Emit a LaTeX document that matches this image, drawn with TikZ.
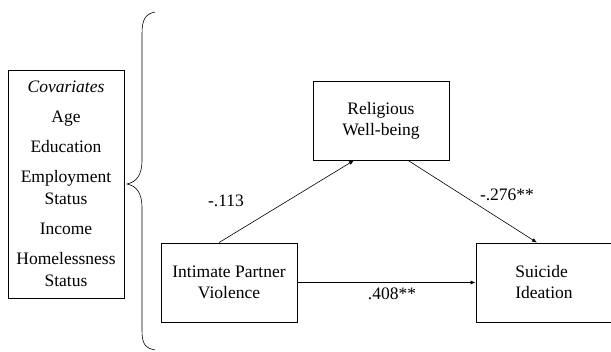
\documentclass[tikz,border=0pt]{standalone}
\usepackage{fontspec}
\setmainfont{Liberation Serif}
\newfontfamily\figfont{Liberation Serif}
\usetikzlibrary{arrows.meta}
\tikzset{
	varbox/.style={draw, rectangle, thick, minimum width=136pt, minimum height=79pt, inner sep=0pt, font=\figfont\fontsize{17.5}{21}\selectfont},
	path/.style={-{Latex[length=5pt,width=4pt]}, semithick},
	coef/.style={font=\figfont\fontsize{17.5}{20}\selectfont}
}
\begin{document}
\begin{tikzpicture}[x=1pt, y=-1pt]
		\useasboundingbox (0,0) rectangle (611,352);
		%covariates
		\node[draw, thick, minimum width=116pt, minimum height=228pt, inner sep=0pt, align=center, font=\figfont\fontsize{17.5}{22}\selectfont] (cov) at (66,184)
			{\textit{Covariates}\\[8pt] Age\\[8pt] Education\\[8pt] Employment\\ Status\\[8pt] Income\\[8pt] Homelessness\\ Status};
		\coordinate (tip) at (127,184);
		\draw[semithick] (155,12) .. controls (145,14) and (142,20) .. (142,34)
			-- (142,160) .. controls (142,176) and (136,182) .. (tip)
			.. controls (136,186) and (142,192) .. (142,208)
			-- (142,330) .. controls (142,344) and (145,348) .. (155,350);
		%model
		\node[varbox, align=center] (rwb) at (381,120.5) {Religious\\Well-being};
		\node[varbox, align=center] (ipv) at (229,282.5) {Intimate Partner\\Violence};
		\node[varbox, align=left] (si) at (544,282.5) {Suicide\\Ideation};
		\draw[path] ([xshift=-10pt]ipv.north) -- ([xshift=-27pt]rwb.south);
		\draw[path] ([xshift=27pt]rwb.south) -- ([xshift=-7pt]si.north);
		\draw[path] (ipv.east) -- (si.west);
		\node[coef] (a) at (226,201) {-.113};
		\node[coef] (b) at (507,195) {-.276**};
		\node[coef] (c) at (392,294) {.408**};
\end{tikzpicture}
\end{document}
